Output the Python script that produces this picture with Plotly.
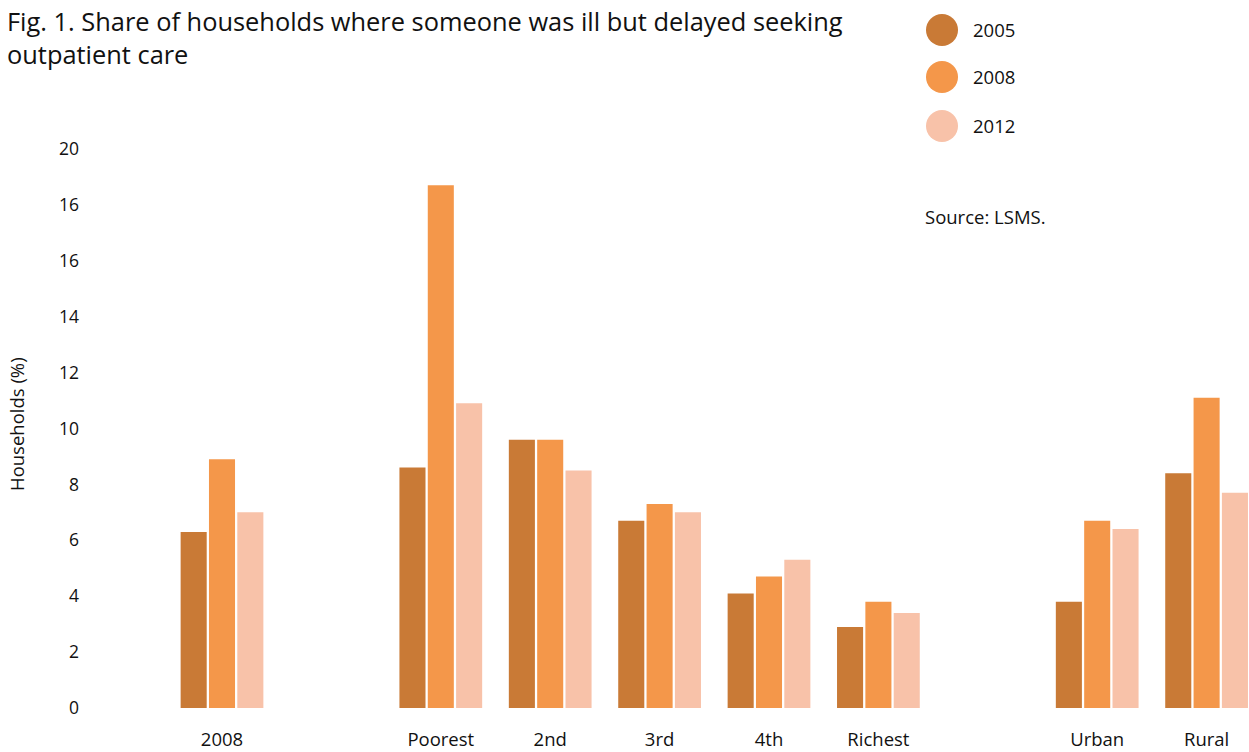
import plotly.graph_objects as go

# ---- data ----
categories = ["2008", "Poorest", "2nd", "3rd", "4th", "Richest", "Urban", "Rural"]
cat_positions = [0, 2, 3, 4, 5, 6, 8, 9]
series_names = ["2005", "2008", "2012"]
values_2005 = [6.3, 8.6, 9.6, 6.7, 4.1, 2.9, 3.8, 8.4]
values_2008 = [8.9, 18.7, 9.6, 7.3, 4.7, 3.8, 6.7, 11.1]
values_2012 = [7.0, 10.9, 8.5, 7.0, 5.3, 3.4, 6.4, 7.7]
y_tickvals = [0, 2, 4, 6, 8, 10, 12, 14, 16, 18, 20]
y_ticktext = ["0", "2", "4", "6", "8", "10", "12", "14", "16", "16", "20"]
colors = ["#C97A36", "#F4974A", "#F8C2A9"]

W, H = 1249, 752
L, R, T, B = 90, 0, 121, 44
FONT = "Open Sans"
TXT = "#111111"

fig = go.Figure()
for name, vals, col in zip(series_names, [values_2005, values_2008, values_2012], colors):
    fig.add_trace(go.Bar(
        x=cat_positions, y=vals, name=name,
        marker=dict(color=col, line=dict(width=0)),
    ))

pw, ph = W - L - R, H - T - B
def px_x(p):
    return (p - L) / pw
def px_y(p):
    return (H - B - p) / ph

shapes = []
annotations = []
legend_y = [30, 77, 126]
for name, col, ly in zip(series_names, colors, legend_y):
    shapes.append(dict(type="circle", xref="paper", yref="paper",
                       xsizemode="pixel", ysizemode="pixel",
                       xanchor=px_x(942), yanchor=px_y(ly),
                       x0=-16, x1=16, y0=-16, y1=16,
                       fillcolor=col, line=dict(width=0)))
    annotations.append(dict(xref="paper", yref="paper", x=px_x(971), y=px_y(ly - 1),
                            xanchor="left", yanchor="middle", showarrow=False,
                            text=name, font=dict(family=FONT, size=18.5, color=TXT)))

annotations.append(dict(xref="paper", yref="paper", x=px_x(923), y=px_y(216),
                        xanchor="left", yanchor="middle", showarrow=False,
                        text="Source: LSMS.", font=dict(family=FONT, size=18.5, color=TXT)))
annotations.append(dict(xref="paper", yref="paper", x=px_x(16), y=px_y(424),
                        xanchor="center", yanchor="middle", showarrow=False, textangle=-90,
                        text="Households (%)", font=dict(family=FONT, size=18.5, color=TXT)))
annotations.append(dict(xref="paper", yref="paper", x=px_x(5), y=px_y(2),
                        xanchor="left", yanchor="top", align="left", showarrow=False,
                        text="Fig. 1. Share of households where someone was ill but delayed seeking<br>outpatient care",
                        font=dict(family=FONT, size=25.4, color=TXT)))

x_left = -(222 - L) / 109.4
x_right = x_left + pw / 109.4

fig.update_layout(
    width=W, height=H,
    margin=dict(l=L, r=R, t=T, b=B),
    paper_bgcolor="white", plot_bgcolor="white",
    barmode="group", bargap=0.223, bargroupgap=0.08,
    showlegend=False,
    xaxis=dict(range=[x_left, x_right], tickvals=cat_positions, ticktext=categories,
               showgrid=False, zeroline=False, showline=False, ticks="",
               ticklabelstandoff=18,
               tickfont=dict(family=FONT, size=18.5, color=TXT)),
    yaxis=dict(range=[0, 21], tickvals=y_tickvals, ticktext=y_ticktext,
               showgrid=False, zeroline=False, showline=False, ticks="",
               ticklabelstandoff=10,
               tickfont=dict(family=FONT, size=17.5, color=TXT)),
    shapes=shapes, annotations=annotations,
)

fig.write_html("out.html",
               config={"displayModeBar": False},
               post_script="document.body.style.margin='0';document.body.style.overflow='hidden';")
